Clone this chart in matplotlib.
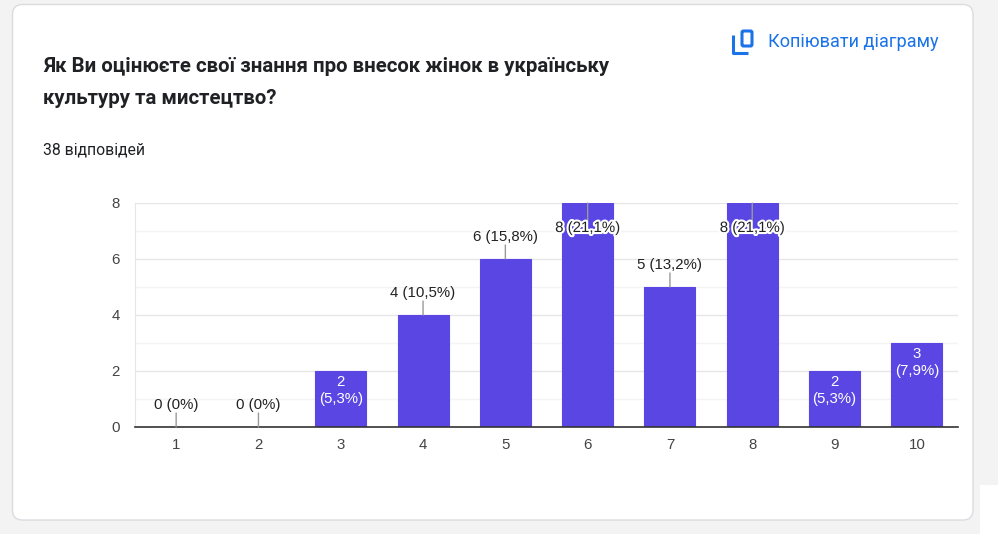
import matplotlib
matplotlib.use("Agg")
import matplotlib.pyplot as plt
from matplotlib.patches import FancyBboxPatch, Rectangle
import matplotlib.patheffects as pe

# ---- data ----
categories = ["1", "2", "3", "4", "5", "6", "7", "8", "9", "10"]
counts = [0, 0, 2, 4, 6, 8, 5, 8, 2, 3]
total_responses = 38
y_ticks = [0, 2, 4, 6, 8]
title_lines = ["Як Ви оцінюєте свої знання про внесок жінок в українську",
               "культуру та мистецтво?"]
subtitle = "38 відповідей"
button_text = "Копіювати діаграму"
# label placement style per bar
label_modes = ["above", "above", "inside", "above", "above", "top",
               "above", "top", "inside", "inside"]

W, H = 998, 534
BAR = "#5946E3"
fig = plt.figure(figsize=(W / 100, H / 100), dpi=100)
fig.patch.set_facecolor("#f3f3f3")

# background / card layer in pixel coordinates
bg = fig.add_axes([0, 0, 1, 1], zorder=0)
bg.set_xlim(0, W)
bg.set_ylim(H, 0)
bg.axis("off")
card = FancyBboxPatch((12.5, 4.5), 960.5, 515.5,
                      boxstyle="round,pad=0,rounding_size=10",
                      facecolor="white", edgecolor="#dadce0", linewidth=1)
bg.add_patch(card)
bg.add_patch(Rectangle((980, 485), 18, 49, facecolor="white", edgecolor="none"))

tfont = ["Roboto", "DejaVu Sans"]
bg.text(43, 67, title_lines[0], fontsize=14.7, fontweight="bold",
        family=tfont, color="#202124", va="center", ha="left")
bg.text(43, 98, title_lines[1], fontsize=14.7, fontweight="bold",
        family=tfont, color="#202124", va="center", ha="left")
bg.text(43, 150, subtitle, fontsize=11.3, family=tfont,
        color="#202124", va="center", ha="left")
bg.text(768, 42, button_text, fontsize=13.1, family=tfont,
        color="#1a73e8", va="center", ha="left")
# copy icon
blue = "#1a73e8"
bg.add_patch(FancyBboxPatch((742, 31), 10, 15, boxstyle="round,pad=0,rounding_size=1.5",
                            facecolor="none", edgecolor=blue, linewidth=2.2))
bg.plot([733.5, 733.5, 748], [35, 53, 53], color=blue, linewidth=2.2,
        solid_capstyle="butt", solid_joinstyle="round")

# chart axes
x0, x1, ytop, ybot = 135, 958, 203, 427
ax = fig.add_axes([x0 / W, 1 - ybot / H, (x1 - x0) / W, (ybot - ytop) / H], zorder=1)
ax.set_facecolor("none")
xs = list(range(len(categories)))
ax.bar(xs, counts, width=0.62, color=BAR, edgecolor=BAR, linewidth=0.8, zorder=3)
ax.set_xlim(-0.5, len(categories) - 0.5)
ax.set_ylim(0, max(y_ticks))
ax.set_yticks(y_ticks)
ax.set_yticks([1, 3, 5, 7], minor=True)
ax.set_xticks(xs)
ax.set_xticklabels(categories)
lfont = ["Liberation Sans", "DejaVu Sans"]
FS = 10.8
for lab in ax.get_xticklabels() + ax.get_yticklabels():
    lab.set_family(lfont)
    lab.set_fontsize(FS)
    lab.set_color("#444444")
ax.tick_params(axis="both", which="both", length=0)
ax.tick_params(axis="x", pad=8)
ax.tick_params(axis="y", pad=11)
ax.grid(axis="y", which="major", color="#e6e6e6", linewidth=1, zorder=0)
ax.grid(axis="y", which="minor", color="#f4f4f4", linewidth=1, zorder=0)
for s in ["top", "right"]:
    ax.spines[s].set_visible(False)
ax.spines["left"].set_color("#e6e6e6")
ax.spines["bottom"].set_color("#333333")
ax.spines["bottom"].set_linewidth(1.2)
ax.spines["bottom"].set_zorder(4)

def fmt(v):
    p = v / total_responses * 100
    if v == 0:
        return "0%"
    return f"{p:.1f}".replace(".", ",") + "%"

lead = dict(arrowstyle="-", color="#999999", lw=1, shrinkA=0, shrinkB=0)
for i, (v, mode) in enumerate(zip(counts, label_modes)):
    if mode == "above":
        ax.annotate("", xy=(i, v), xytext=(0, 14), textcoords="offset pixels",
                    arrowprops=lead, zorder=5)
        ax.annotate(f"{v} ({fmt(v)})", xy=(i, v), xytext=(0, 22),
                    textcoords="offset pixels", ha="center", va="center",
                    fontsize=FS, family=lfont, color="#222222", zorder=5)
    elif mode == "top":
        ax.annotate("", xy=(i, v), xytext=(0, -18), textcoords="offset pixels",
                    arrowprops=lead, zorder=5)
        ax.annotate(f"{v} ({fmt(v)})", xy=(i, v), xytext=(0, -25),
                    textcoords="offset pixels", ha="center", va="center",
                    fontsize=FS, family=lfont, color="#222222", zorder=6,
                    path_effects=[pe.withStroke(linewidth=3, foreground="white")])
    else:
        ax.annotate(f"{v}", xy=(i, v), xytext=(0, -11),
                    textcoords="offset pixels", ha="center", va="center",
                    fontsize=FS, family=lfont, color="white", zorder=5)
        ax.annotate(f"({fmt(v)})", xy=(i, v), xytext=(0, -28),
                    textcoords="offset pixels", ha="center", va="center",
                    fontsize=FS, family=lfont, color="white", zorder=5)

fig.savefig("out.png", dpi=100, facecolor=fig.get_facecolor())
